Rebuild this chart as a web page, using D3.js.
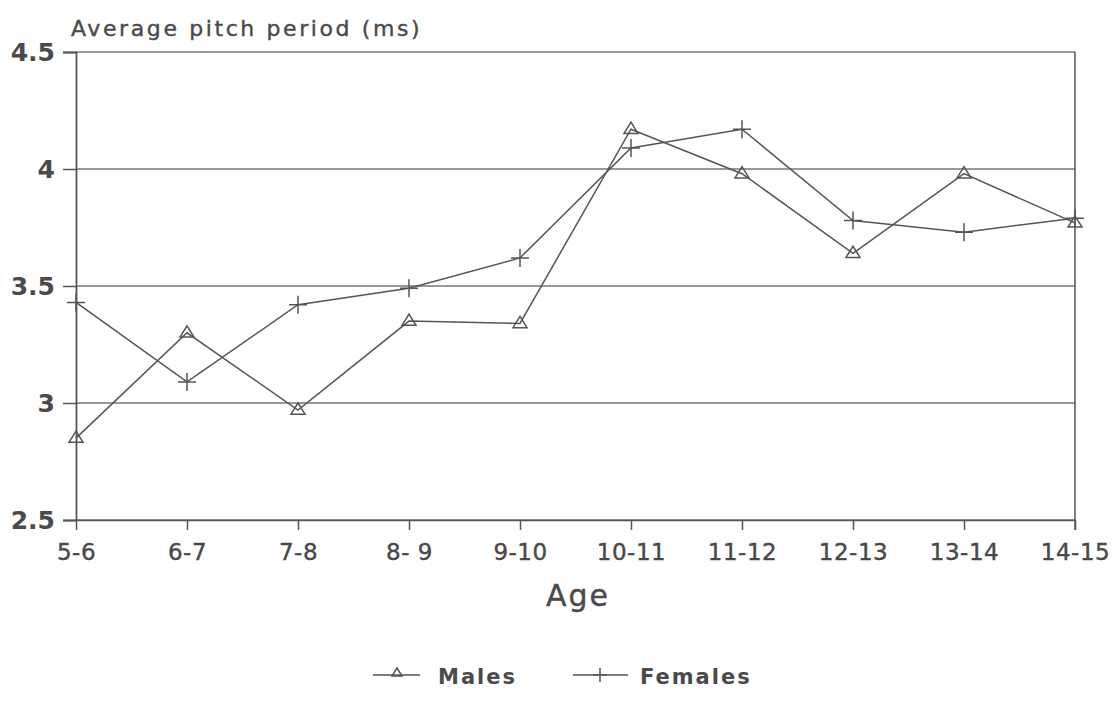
<!DOCTYPE html>
<html>
<head>
<meta charset="utf-8">
<script src="https://cdn.jsdelivr.net/npm/d3@7"></script>
<style>
  body { margin: 0; background: #fff; }
  text { font-family: "DejaVu Sans", "Liberation Sans", Arial, sans-serif; fill: #4a4a4a; }
</style>
</head>
<body>
<div id="chart"></div>
<script>

var ages = ["5-6", "6-7", "7-8", "8- 9", "9-10", "10-11", "11-12", "12-13", "13-14", "14-15"];
var males = [2.85, 3.30, 2.97, 3.35, 3.34, 4.17, 3.98, 3.64, 3.98, 3.77];
var females = [3.43, 3.09, 3.42, 3.49, 3.62, 4.09, 4.17, 3.78, 3.73, 3.79];
var yTicks = [2.5, 3, 3.5, 4, 4.5];

var width = 1114,
    height = 706;

// plot box (don't call it "top", that's window.top)
var pLeft = 76, pRight = 1075, pTop = 52, pBottom = 520;
var ink = "#555";
var font = "DejaVu Sans, Liberation Sans, Arial, sans-serif";

var svg = d3.select("#chart").append("svg")
    .attr("width", width)
    .attr("height", height);

var x = d3.scalePoint()
    .domain(ages)
    .range([pLeft, pRight]);

var y = d3.scaleLinear()
    .domain([2.5, 4.5])
    .range([pBottom, pTop]);

// grid lines
svg.append("g")
  .selectAll("line")
  .data(yTicks)
  .enter().append("line")
    .attr("x1", pLeft)
    .attr("x2", pRight)
    .attr("y1", function(d) { return y(d); })
    .attr("y2", function(d) { return y(d); })
    .attr("stroke", "#777")
    .attr("stroke-width", 1.3);

// frame right side
svg.append("line")
    .attr("x1", pRight).attr("x2", pRight)
    .attr("y1", pTop).attr("y2", pBottom + 10)
    .attr("stroke", ink).attr("stroke-width", 1.5);

// y axis
var yAxis = svg.append("g")
    .attr("transform", "translate(" + pLeft + ",0)")
    .call(d3.axisLeft(y).tickValues(yTicks).tickSize(13).tickPadding(8)
      .tickFormat(function(d) { return d; }));
yAxis.select(".domain").attr("stroke", ink).attr("stroke-width", 1.8);
yAxis.selectAll(".tick line").attr("stroke", ink).attr("stroke-width", 1.5);
yAxis.selectAll(".tick text")
    .attr("font-size", 25)
    .attr("font-weight", "bold")
    .attr("fill", "#4a4a4a")
    .attr("font-family", font);

// x axis
var xAxis = svg.append("g")
    .attr("transform", "translate(0," + pBottom + ")")
    .call(d3.axisBottom(x).tickSize(10).tickPadding(14).tickSizeOuter(0));
xAxis.select(".domain").attr("stroke", ink).attr("stroke-width", 1.5);
xAxis.selectAll(".tick line").attr("stroke", ink).attr("stroke-width", 1.5);
xAxis.selectAll(".tick text")
    .attr("font-size", 23)
    .attr("fill", "#444")
    .attr("font-family", font)
    .attr("stroke", "#444")
    .attr("stroke-width", 0.4)
    .style("letter-spacing", "0.5px");

// titles
svg.append("text")
    .attr("x", 71)
    .attr("y", 36)
    .attr("font-size", 22)
    .attr("stroke", "#4a4a4a")
    .attr("stroke-width", 0.4)
    .style("letter-spacing", "2.6px")
    .text("Average pitch period (ms)");

svg.append("text")
    .attr("x", 578)
    .attr("y", 606)
    .attr("text-anchor", "middle")
    .attr("font-size", 30)
    .attr("stroke", "#4a4a4a")
    .attr("stroke-width", 0.4)
    .style("letter-spacing", "2px")
    .text("Age");

// series
var line = d3.line()
    .x(function(d, i) { return x(ages[i]); })
    .y(function(d) { return y(d); });

function drawTriangle(g, cx, cy, s) {
  g.append("path")
      .attr("d", "M" + cx + "," + (cy - s) + "L" + (cx + s) + "," + (cy + s * 0.6) +
                 "L" + (cx - s) + "," + (cy + s * 0.6) + "Z")
      .attr("fill", "none")
      .attr("stroke", ink)
      .attr("stroke-width", 1.5);
}

function drawPlus(g, cx, cy, s) {
  g.append("path")
      .attr("d", "M" + (cx - s) + "," + cy + "H" + (cx + s) + "M" + cx + "," + (cy - s) + "V" + (cy + s))
      .attr("stroke", ink)
      .attr("stroke-width", 1.5);
}

svg.append("path")
    .datum(males)
    .attr("d", line)
    .attr("fill", "none")
    .attr("stroke", ink)
    .attr("stroke-width", 1.5);

svg.append("path")
    .datum(females)
    .attr("d", line)
    .attr("fill", "none")
    .attr("stroke", ink)
    .attr("stroke-width", 1.5);

var marks = svg.append("g");
males.forEach(function(d, i) { drawTriangle(marks, x(ages[i]), y(d), 7); });
females.forEach(function(d, i) { drawPlus(marks, x(ages[i]), y(d), 9); });

// legend
var leg = svg.append("g");
leg.append("line").attr("x1", 373).attr("x2", 420).attr("y1", 675).attr("y2", 675)
    .attr("stroke", ink).attr("stroke-width", 1.5);
drawTriangle(leg, 397, 673, 5);
leg.append("text").attr("x", 438).attr("y", 684).attr("font-size", 21).attr("font-weight", "bold")
    .style("letter-spacing", "2px")
    .text("Males");
leg.append("line").attr("x1", 573).attr("x2", 628).attr("y1", 675).attr("y2", 675)
    .attr("stroke", ink).attr("stroke-width", 1.5);
drawPlus(leg, 600, 675, 7);
leg.append("text").attr("x", 640).attr("y", 684).attr("font-size", 21).attr("font-weight", "bold")
    .style("letter-spacing", "2px")
    .text("Females");

</script>
</body>
</html>
